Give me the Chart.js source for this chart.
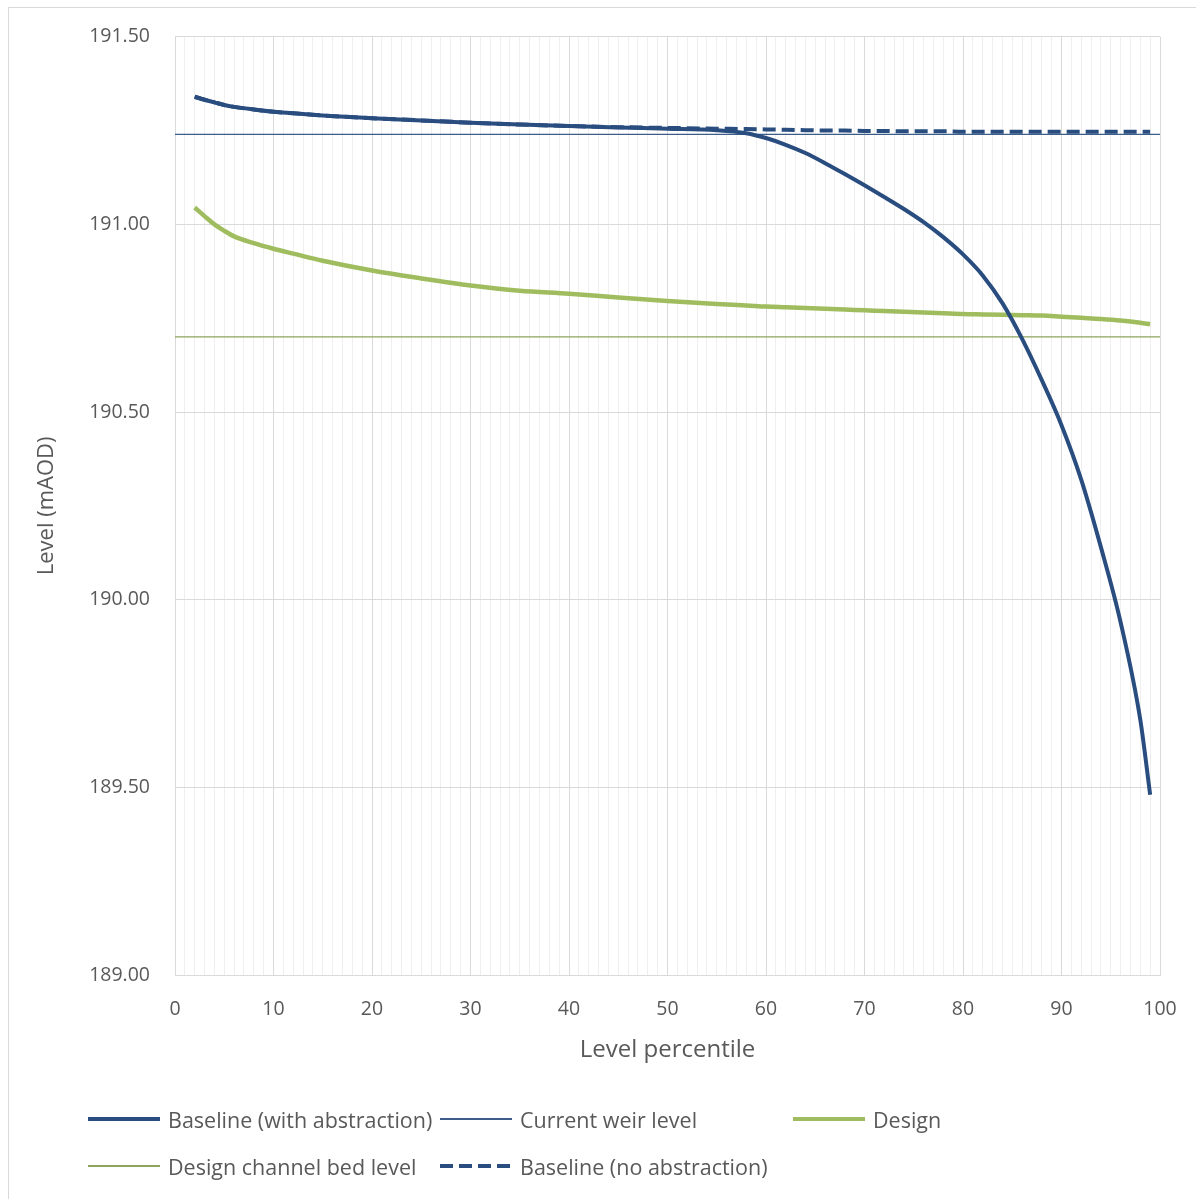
<!DOCTYPE html>
<html>
<head>
<meta charset="utf-8">
<script src="https://cdn.jsdelivr.net/npm/chart.js@4.4.1/dist/chart.umd.min.js"></script>
<style>
  body { margin: 0; background: #fff; }
  #wrap { position: relative; width: 1196px; height: 1199px; overflow: hidden; }
  #frame { position: absolute; left: 8px; top: 7px; width: 1200px; height: 1200px; border: 1px solid #d9d9d9; }
  #myChart { position: absolute; left: 0; top: 0; }
  .lg-item { position: absolute; height: 28px; display: flex; align-items: center; font-family: "Open Sans", sans-serif; font-size: 21.5px; color: #595959; white-space: nowrap; }
  .lg-line { width: 72px; margin-right: 8px; }
</style>
</head>
<body>
<div id="wrap">
  <div id="frame"></div>
  <canvas id="myChart" width="1196" height="1199"></canvas>
  <div id="legend"></div>
</div>
<script>
// percentiles the curves were read at
var percentiles = [2, 3, 4, 5, 6, 8, 10, 12, 15, 20, 25, 30, 35, 40, 45, 50, 55, 58, 60, 62,
  64, 66, 68, 70, 72, 74, 76, 78, 80, 82, 84, 86, 88, 90, 92, 94, 96, 98, 99];

var baselineWith = [191.340, 191.332, 191.325, 191.318, 191.313, 191.306, 191.300, 191.296, 191.290, 191.283,
  191.277, 191.271, 191.266, 191.262, 191.258, 191.255, 191.251, 191.243, 191.230, 191.212,
  191.190, 191.163, 191.134, 191.104, 191.073, 191.041, 191.006, 190.966, 190.920, 190.864,
  190.790, 190.695, 190.585, 190.465, 190.320, 190.140, 189.940, 189.680, 189.480];

var baselineNo = [191.340, 191.332, 191.325, 191.318, 191.313, 191.306, 191.300, 191.296, 191.290, 191.283,
  191.277, 191.271, 191.266, 191.262, 191.259, 191.257, 191.255, 191.254, 191.253, 191.252,
  191.251, 191.250, 191.250, 191.249, 191.249, 191.248, 191.248, 191.248, 191.247, 191.247,
  191.247, 191.247, 191.247, 191.247, 191.247, 191.247, 191.247, 191.247, 191.247];

var design = [191.045, 191.022, 191.000, 190.983, 190.968, 190.950, 190.935, 190.922, 190.903, 190.877,
  190.856, 190.837, 190.823, 190.815, 190.805, 190.796, 190.788, 190.784, 190.781, 190.779,
  190.777, 190.775, 190.773, 190.771, 190.769, 190.767, 190.765, 190.763, 190.761, 190.760,
  190.759, 190.758, 190.757, 190.754, 190.751, 190.748, 190.744, 190.738, 190.734];

var weirLevel = 191.24;
var bedLevel = 190.70;
var xRange = [0, 100];

var seriesLabels = ["Baseline (with abstraction)", "Current weir level", "Design", "Design channel bed level", "Baseline (no abstraction)"];
var yTicks = [189.0, 189.5, 190.0, 190.5, 191.0, 191.5];

const BLUE = "#2a4d80";
const GREEN = "#9fbd5f";
const FONT = "Open Sans";

function toPoints(xs, ys) {
  return xs.map(function (x, i) { return { x: x, y: ys[i] }; });
}
function flat(level) {
  return xRange.map(function (x) { return { x: x, y: level }; });
}

const datasets = [
  { label: seriesLabels[0], data: toPoints(percentiles, baselineWith), borderColor: BLUE, borderWidth: 4, order: 2, cubicInterpolationMode: "monotone" },
  { label: seriesLabels[1], data: flat(weirLevel), borderColor: "#3d5d88", borderWidth: 1.3, order: 3 },
  { label: seriesLabels[2], data: toPoints(percentiles, design), borderColor: GREEN, borderWidth: 4.5, order: 2, cubicInterpolationMode: "monotone" },
  { label: seriesLabels[3], data: flat(bedLevel), borderColor: "#8ea35c", borderWidth: 1.3, order: 3 },
  { label: seriesLabels[4], data: toPoints(percentiles, baselineNo), borderColor: BLUE, borderWidth: 4, borderDash: [13, 6], order: 1, cubicInterpolationMode: "monotone" },
];
datasets.forEach(function (d) {
  d.pointRadius = 0;
  d.pointHoverRadius = 0;
  d.fill = false;
  d.borderCapStyle = "butt";
});

const ctx = document.getElementById("myChart").getContext("2d");

new Chart(ctx, {
  type: "line",
  data: { datasets: datasets },
  options: {
    responsive: false,
    animation: false,
    layout: { padding: { left: 30, top: 35, right: 36, bottom: 130 } },
    scales: {
      x: {
        type: "linear",
        min: xRange[0],
        max: xRange[1],
        ticks: {
          stepSize: 1,
          autoSkip: false,
          maxRotation: 0,
          padding: 18,
          color: "#595959",
          font: { family: FONT, size: 19.5 },
          callback: function (value) {
            return value % 10 === 0 ? value : "";
          },
        },
        grid: {
          drawTicks: true,
          tickLength: 5,
          tickColor: "transparent",
          color: function (c) {
            return c.tick && c.tick.value % 10 === 0 ? "#d9d9d9" : "#efefef";
          },
        },
        border: { color: "#d9d9d9" },
        title: {
          display: true,
          text: "Level percentile",
          color: "#595959",
          font: { family: FONT, size: 24 },
        },
        afterFit: function (scale) {
          scale.height = 94;
        },
      },
      y: {
        min: yTicks[0],
        max: yTicks[yTicks.length - 1],
        afterBuildTicks: function (scale) {
          scale.ticks = yTicks.map(function (v) { return { value: v }; });
        },
        ticks: {
          padding: 25,
          color: "#595959",
          font: { family: FONT, size: 19.5 },
          callback: function (value) {
            return value.toFixed(2);
          },
        },
        grid: { drawTicks: false, color: "#d9d9d9" },
        border: { color: "#d9d9d9" },
        title: {
          display: true,
          text: "Level (mAOD)",
          color: "#595959",
          font: { family: FONT, size: 22 },
        },
        afterFit: function (scale) {
          scale.width = 145;
        },
      },
    },
    plugins: {
      legend: { display: false },
      tooltip: { enabled: false },
    },
  },
});

// Excel-style legend laid out in columns under the chart
var legendSlots = [[88, 1119], [440, 1119], [793, 1119], [88, 1166], [440, 1166]];
var legendEl = document.getElementById("legend");
datasets.forEach(function (d, i) {
  var item = document.createElement("div");
  item.className = "lg-item";
  item.style.left = legendSlots[i][0] + "px";
  item.style.top = legendSlots[i][1] - 14 + "px";
  var line = document.createElement("span");
  line.className = "lg-line";
  line.style.height = d.borderWidth + "px";
  if (d.borderDash) {
    line.style.background = "repeating-linear-gradient(90deg, " + d.borderColor + " 0 13px, transparent 13px 19px)";
  } else {
    line.style.background = d.borderColor;
  }
  item.appendChild(line);
  item.appendChild(document.createTextNode(d.label));
  legendEl.appendChild(item);
});
</script>
</body>
</html>
